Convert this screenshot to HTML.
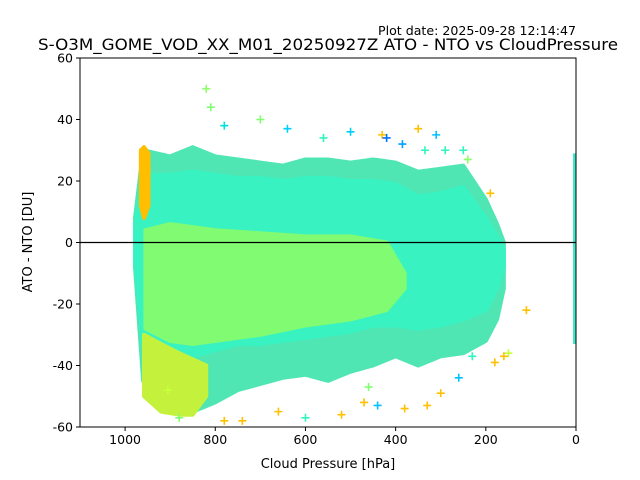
<!DOCTYPE html>
<html><head><meta charset="utf-8"><style>
body{margin:0;background:#fff}
svg{display:block}
text{font-family:"DejaVu Sans","Liberation Sans",sans-serif;fill:#000}
</style></head><body>
<svg id="chart" width="640" height="480" viewBox="0 0 640 480" xmlns="http://www.w3.org/2000/svg">
<text x="378" y="35" font-size="12" textLength="198" lengthAdjust="spacingAndGlyphs">Plot date: 2025-09-28 12:14:47</text>
<text x="38" y="50" font-size="16" textLength="580" lengthAdjust="spacingAndGlyphs">S-O3M_GOME_VOD_XX_M01_20250927Z ATO - NTO vs CloudPressure</text>
<defs><clipPath id="pc"><rect x="80" y="58" width="496" height="369"/></clipPath></defs>
<g id="plot" clip-path="url(#pc)"></g>
<g id="axes"></g>
<text x="328" y="468" font-size="13" text-anchor="middle">Cloud Pressure [hPa]</text>
<text x="0" y="0" font-size="13" text-anchor="middle" transform="translate(32,242) rotate(-90)">ATO - NTO [DU]</text>
</svg>
<script>
// ---- data ----
const pressureBins = [978, 960, 900, 850, 800, 750, 700, 650, 600, 550, 500, 450, 400, 350, 300, 250, 200, 175, 160];
const outerTop =     [8, 30, 28, 31, 28, 27, 26, 25, 27, 27, 26, 27, 26, 23, 24, 25, 14, 6, 0];
const outerBottom =  [-8, -45, -53, -55, -52, -48, -46, -44, -43, -45, -42, -40, -37, -40, -37, -36, -32, -25, -15];
const tealTop =      [6, 22, 22, 23, 22, 21, 21, 20, 21, 21, 20, 20, 19, 15, 16, 18, 8, 2, -2];
const tealBottom =   [-6, -33, -36, -37, -35, -33, -33, -32, -31, -30, -29, -27, -27, -28, -27, -25, -22, -15, -8];
const greenBins =    [955, 900, 850, 800, 700, 600, 500, 420, 380];
const greenTop =     [4, 6, 5, 4, 3, 2, 2, 0, -10];
const greenBottom =  [-28, -32, -33, -32, -30, -27, -25, -22, -15];
const orangeBins =   [965, 958, 948];
const orangeTop =    [30, 31, 29];
const orangeBottom = [12, 8, 12];
const yellowBins =   [958, 920, 880, 850, 820];
const yellowTop =    [-30, -33, -36, -38, -40];
const yellowBottom = [-50, -55, -56, -56, -50];
const outlierP = [820, 810, 780, 700, 640, 560, 500, 430, 420, 385, 350, 335, 310, 290, 240, 250, 190, 110, 150, 300, 330, 380, 460, 520, 600, 660, 740, 780, 880, 905, 470, 440, 260, 230, 180, 160];
const outlierV = [50, 44, 38, 40, 37, 34, 36, 35, 34, 32, 37, 30, 35, 30, 27, 30, 16, -22, -36, -49, -53, -54, -47, -56, -57, -55, -58, -58, -57, -48, -52, -53, -44, -37, -39, -37];
const outlierC = ["#8cff6a","#80ff70","#00e0e0","#80ff70","#00d0ff","#30f5c0","#00d0ff","#ffc000","#0070ff","#00a0ff","#ffc000","#30f5c0","#00c0ff","#30f5c0","#8cff6a","#30f5c0","#ffc000","#ffc000","#c8ff3c","#ffc000","#ffc000","#ffc000","#80ff70","#ffc000","#30f5c0","#ffc000","#ffc000","#ffc000","#80ff70","#c8ff3c","#ffc000","#00c0ff","#00c0ff","#30f5c0","#ffc000","#ffc000"];
const edgeColumnTop = 29;
const edgeColumnBottom = -33;
const xTicks = [1000, 800, 600, 400, 200, 0];
const yTicks = [60, 40, 20, 0, -20, -40, -60];

// ---- axes ----
const X0=80, X1=576, Y0=58, Y1=427;
const xs = p => X0 + (1100 - p) * (X1 - X0) / 1100;
const ys = v => Y0 + (60 - v) * (Y1 - Y0) / 120;
const NS = "http://www.w3.org/2000/svg";
const plot = document.getElementById('plot');
const axes = document.getElementById('axes');
function mk(tag, attrs, parent){const e=document.createElementNS(NS,tag);for(const k in attrs)e.setAttribute(k,attrs[k]);parent.appendChild(e);return e;}

function band(bins, top, bot, color, name){
  let pts=[];
  for(let i=0;i<bins.length;i++) pts.push(xs(bins[i])+','+ys(top[i]));
  for(let i=bins.length-1;i>=0;i--) pts.push(xs(bins[i])+','+ys(bot[i]));
  const e=mk('polygon',{points:pts.join(' '),fill:color,stroke:color,'stroke-width':4,'stroke-linejoin':'round'},plot);
  
  
}
band(pressureBins, outerTop, outerBottom, '#4fe6b4', 'outer-scatter-cloud');
band(pressureBins, tealTop, tealBottom, '#38f2c2', 'teal-scatter-band');
band(greenBins, greenTop, greenBottom, '#80fb72', 'green-scatter-core');
band(orangeBins, orangeTop, orangeBottom, '#ffbe00', 'orange-scatter-strip');
band(yellowBins, yellowTop, yellowBottom, '#c4f23c', 'yellow-scatter-band');

for(let i=0;i<outlierP.length;i++){
  const x=xs(outlierP[i]), y=ys(outlierV[i]);
  const g=mk('path',{d:`M${x-4},${y}H${x+4}M${x},${y-4}V${y+4}`,stroke:outlierC[i],'stroke-width':1.6},plot);
  
  
}
const col=mk('rect',{x:xs(0)-3,y:ys(edgeColumnTop),width:6,height:ys(edgeColumnBottom)-ys(edgeColumnTop),fill:'#40e8c8'},plot);



const zl=mk('line',{x1:X0,x2:X1,y1:ys(0),y2:ys(0),stroke:'#000','stroke-width':1.2},axes);


const fr=mk('rect',{x:X0,y:Y0,width:X1-X0,height:Y1-Y0,fill:'none',stroke:'#000','stroke-width':1},axes);



xTicks.forEach(t=>{
  const x=xs(t);
  mk('line',{x1:x,x2:x,y1:Y1,y2:Y1+4,stroke:'#000'},axes);
  const tx=mk('text',{x:x,y:Y1+17,'font-size':12.5,'text-anchor':'middle'},axes);
  tx.textContent=t;
  
  
});
yTicks.forEach(t=>{
  const y=ys(t);
  mk('line',{x1:X0-4,x2:X0,y1:y,y2:y,stroke:'#000'},axes);
  const tx=mk('text',{x:X0-7,y:y+4.5,'font-size':12.5,'text-anchor':'end'},axes);
  tx.textContent=t;
  
  
});
</script>
</body></html>
